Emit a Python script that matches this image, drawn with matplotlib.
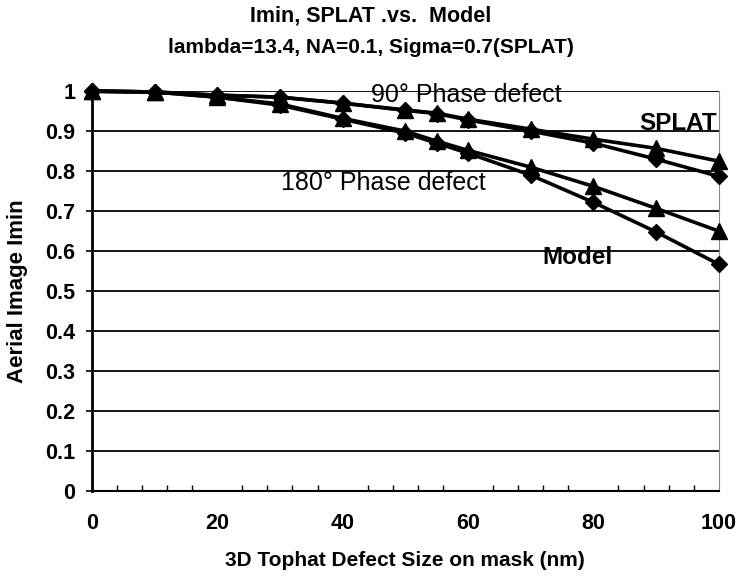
import matplotlib
matplotlib.use("Agg")
import matplotlib.pyplot as plt
import numpy as np

plt.rcParams['font.family'] = ['Liberation Sans', 'DejaVu Sans']

size_nm = [0, 10, 20, 30, 40, 50, 55, 60, 70, 80, 90, 100]
splat_90 = [1.0, 0.998, 0.99, 0.985, 0.97, 0.953, 0.945, 0.93, 0.905, 0.88, 0.857, 0.825]
model_90 = [1.0, 0.998, 0.99, 0.985, 0.97, 0.952, 0.944, 0.928, 0.90, 0.87, 0.83, 0.787]
splat_180 = [1.0, 0.998, 0.985, 0.968, 0.932, 0.90, 0.875, 0.852, 0.81, 0.762, 0.707, 0.65]
model_180 = [1.0, 0.998, 0.985, 0.965, 0.93, 0.895, 0.87, 0.845, 0.79, 0.722, 0.648, 0.567]

fig = plt.figure(figsize=(7.41, 5.77), dpi=100)
ax = fig.add_axes([0.124, 0.149, 0.846, 0.693])

for yv in np.arange(0.1, 1.01, 0.1):
    ax.axhline(yv, color='black', lw=1.3, zorder=1)

ax.plot(size_nm, splat_90, color='black', lw=2.6, marker='^', ms=11, clip_on=False, zorder=3)
ax.plot(size_nm, model_90, color='black', lw=2.6, marker='D', ms=8, clip_on=False, zorder=3)
ax.plot(size_nm, splat_180, color='black', lw=2.6, marker='^', ms=11, clip_on=False, zorder=3)
ax.plot(size_nm, model_180, color='black', lw=2.6, marker='D', ms=8, clip_on=False, zorder=3)

ax.set_xlim(0, 100)
ax.set_ylim(0, 1)
ax.set_yticks(np.round(np.arange(0, 1.01, 0.1), 1))
ax.set_yticklabels(['0', '0.1', '0.2', '0.3', '0.4', '0.5', '0.6', '0.7', '0.8', '0.9', '1'],
                   fontsize=15.5, fontweight='bold')
ax.set_xticks([0, 20, 40, 60, 80, 100])
ax.set_xticklabels(['0', '20', '40', '60', '80', '100'], fontsize=15.5, fontweight='bold')
ax.set_xticks(np.arange(0, 101, 4), minor=True)
ax.tick_params(axis='x', which='major', length=0, pad=16)
ax.tick_params(axis='x', which='minor', direction='in', length=4, width=1)
ax.tick_params(axis='y', which='major', direction='out', length=4, width=1.2, pad=8)

ax.spines['top'].set_visible(False)
ax.spines['right'].set_color('#888888')
ax.spines['right'].set_linewidth(0.8)
ax.spines['left'].set_linewidth(2)
ax.spines['bottom'].set_linewidth(1.5)

ax.set_xlabel('3D Tophat Defect Size on mask (nm)', fontsize=15, fontweight='bold', labelpad=12)
ax.set_ylabel('Aerial Image Imin', fontsize=16, fontweight='bold', labelpad=12)

ax.text(59.7, 0.99, '90° Phase defect', fontsize=18, ha='center', va='center', zorder=2)
ax.text(46.5, 0.77, '180° Phase defect', fontsize=18, ha='center', va='center')
ax.text(93.5, 0.918, 'SPLAT', fontsize=17.5, fontweight='bold', ha='center', va='center')
ax.text(77.5, 0.583, 'Model', fontsize=17.5, fontweight='bold', ha='center', va='center')

fig.text(0.5, 0.972, 'Imin, SPLAT .vs.  Model', fontsize=15.5, fontweight='bold',
         ha='center', va='center')
fig.text(0.5, 0.917, 'lambda=13.4, NA=0.1, Sigma=0.7(SPLAT)', fontsize=15, fontweight='bold',
         ha='center', va='center')

fig.savefig('out.png', dpi=100)
